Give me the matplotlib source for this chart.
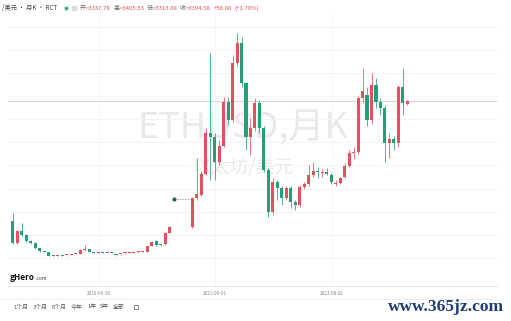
import numpy as np
import matplotlib.pyplot as plt
from matplotlib.lines import Line2D

plt.rcParams['font.family'] = ['Noto Sans CJK SC', 'DejaVu Sans']

W, H = 511, 321
RED = '#e0525e'
GREEN = '#23a07a'

# monthly candles, left to right (None = no bar)
opens = [800, 324, 584, 497, 368, 330, 216, 150, 135, 50, 45, 50, 55, 65, 86, 86, 170, 195, 130, 108,
         115, 108, 112, 62, 80, 100, 110, 115, 120, 130, 130, 259, 368, 300, 303, 541, None, None, None, None,
         670, 1297, 1362, 1816, 2703, 2616, 2076, 2421, 3373, 2984, 4216, 4648, 3783, 2616, 2811, 3351, 2811, 1903, 995, 1643,
         1513, 1297, 1513, 1211, 1146, 1535, 1600, 1794, 1881, 1840, 1859, 1794, 1610, 1622, 1751, 1989, 2270, 2292, 3459, 3524,
         2984, 3740, 3373, 3243, 2486, 2573, 2486, 3697, 3337.78]
highs = [970, 610, 756, 520, 380, 340, 225, 160, 140, 60, 58, 56, 70, 95, 115, 185, 280, 200, 140, 120,
         122, 118, 118, 70, 92, 112, 120, 122, 135, 156, 270, 360, 380, 310, 560, 690, None, None, None, None,
         1320, 2162, 1880, 2810, 4432, 2703, 2550, 3481, 3481, 4389, 4864, 4778, 3800, 3027, 3459, 3416, 2850, 1950, 1730, 1686,
         1560, 1560, 1560, 1250, 1580, 1650, 2011, 2076, 1967, 1920, 1946, 1830, 1680, 1760, 2050, 2340, 2400, 3500, 4108, 3700,
         4000, 3892, 3450, 3300, 2700, 2640, 3750, 4108, 3405.53]
lows = [300, 300, 480, 350, 310, 195, 140, 125, 40, 35, 38, 40, 50, 60, 80, 80, 150, 120, 100, 100,
        100, 100, 98, 50, 75, 95, 105, 110, 115, 125, 125, 250, 270, 270, 290, 530, None, None, None, None,
        649, 1254, 1340, 1790, 1686, 1686, 2011, 2400, 2875, 2950, 4150, 3700, 2335, 2230, 2750, 2700, 1850, 886, 930, 1254,
        1146, 1250, 1081, 1038, 1100, 1500, 1560, 1760, 1730, 1760, 1790, 1600, 1560, 1590, 1720, 1960, 2140, 2250, 3350, 2860,
        2900, 3250, 3100, 2076, 2162, 2335, 2400, 3092, 3313.88]
closes = [324, 584, 497, 368, 330, 216, 150, 135, 50, 45, 50, 47, 65, 86, 105, 173, 185, 130, 108, 115,
          108, 112, 105, 58, 86, 108, 115, 118, 130, 151, 259, 346, 281, 281, 541, 670, None, None, None, None,
          1297, 1384, 1816, 2703, 2616, 2076, 2421, 3373, 2984, 4216, 4648, 3783, 2616, 2811, 3351, 2811, 1903, 995, 1643, 1513,
          1297, 1513, 1211, 1146, 1535, 1600, 1794, 1881, 1859, 1855, 1816, 1643, 1630, 1730, 1989, 2270, 2292, 3459, 3611, 2984,
          3740, 3373, 3243, 2486, 2573, 2486, 3697, 3351, 3394.58]

tick_pos = [19.2, 45.1, 71.2]
tick_labels = ['2019-09-30', '2021-06-01', '2023-08-01']
note_x, note_y = 36, 1276

o = np.array(opens, dtype=float)
h = np.array(highs, dtype=float)
l = np.array(lows, dtype=float)
c = np.array(closes, dtype=float)
x = np.arange(len(o))
col = np.where(c >= o, RED, GREEN)

fig = plt.figure(figsize=(W / 100, H / 100), dpi=100)
fig.patch.set_facecolor('white')
ax = fig.add_axes([8 / W, 1 - 286 / H, 489 / W, 272 / H])
ax.set_xlim(-1.1, 108.0)
ax.set_ylim(-605, 5275)

# watermark
ax.text(0.48, 0.58, 'ETHUSD,月K', transform=ax.transAxes, ha='center', va='center',
        fontsize=26, color='#e9e9e9', zorder=0)
ax.text(0.48, 0.435, '以太坊/美元', transform=ax.transAxes, ha='center', va='center',
        fontsize=13.5, color='#e9e9e9', zorder=0)

ax.vlines(x, l, h, colors=col, lw=0.55, zorder=3)
ax.bar(x, np.maximum(np.abs(c - o), 22), bottom=np.minimum(o, c), width=0.68,
       color=col, lw=0, zorder=4)

ax.plot([note_x], [note_y], 'o', ms=2, color='#1d6b52', zorder=5)
ax.plot([note_x + 0.6, note_x + 3.4], [note_y, note_y], ls=(0, (2, 1.5)), lw=0.5, color='#888888', zorder=2)

ax.axhline(c[-1], color='#d0d0d0', lw=0.6, zorder=1)

ax.set_yticks(np.arange(0, 5001, 500))
ax.set_xticks(tick_pos, tick_labels)
ax.grid(True, color='#f3f3f3', lw=0.6)
ax.set_axisbelow(True)
ax.tick_params(length=0, labelleft=False, labelsize=3.3, labelcolor='#888888', pad=3.5)
for s in ['top', 'left', 'right']:
    ax.spines[s].set_visible(False)
ax.spines['bottom'].set_color('#e6e6e6')
ax.spines['bottom'].set_linewidth(0.6)

fig.add_artist(Line2D([0, 497 / W], [1 - 299 / H] * 2, color='#ececec', lw=0.6))

# header
fig.text(2 / W, 1 - 8 / H, '/美元 · 月K · RCT', fontsize=4.5, color='#444444', va='center')
fig.add_artist(Line2D([66 / W], [1 - 8 / H], marker='o', ms=3.2, mfc='#26a17b', mec='#c8ece0', mew=1.0))
fig.add_artist(Line2D([74 / W], [1 - 8 / H], marker='s', ms=3.2, mfc='#dcdcdc', mec='#dcdcdc'))
renderer = fig.canvas.get_renderer()
pieces = [('开', '#666666', 0), ('=3337.78', RED, 2.5), ('高', '#666666', 0), ('=3405.53', RED, 2.5),
          ('低', '#666666', 0), ('=3313.88', RED, 2.5), ('收', '#666666', 0), ('=3394.58', RED, 2.5),
          ('+56.80', RED, 2), ('(+1.70%)', RED, 0)]
xp = 80
for s, cc, gap in pieces:
    t = fig.text(xp / W, 1 - 8 / H, s, fontsize=4.3, color=cc, va='center')
    xp = t.get_window_extent(renderer).x1 + gap

fig.text(10 / W, 1 - 278 / H, 'gHero', fontsize=6, fontweight='bold', color='#111111', va='center')
fig.text(36 / W, 1 - 279 / H, '.com', fontsize=3.5, color='#333333', va='center')

ranges = ['1个月', '3个月', '6个月', '今年', '1年', '5年', '全部']
range_x = [13, 33, 52, 71, 87, 100, 113]
for s, xx in zip(ranges, range_x):
    fig.text(xx / W, 1 - 307 / H, s, fontsize=4.2, color='#555555', va='center')
fig.add_artist(Line2D([136 / W], [1 - 307 / H], marker='s', ms=3.5, mfc='none', mec='#777777', mew=0.6))

fig.text(388 / W, 1 - 307 / H, 'www.365jz.com', fontsize=12.5, color='#1d3c78',
         family='Liberation Serif', fontweight='bold', va='center')

fig.savefig('out.png', dpi=100, facecolor='white')
